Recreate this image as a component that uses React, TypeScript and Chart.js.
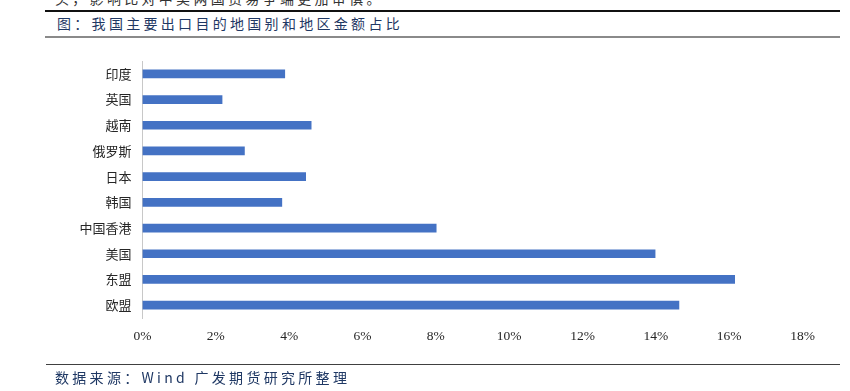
import React, { useEffect, useRef } from "react";
import { Chart, registerables } from "chart.js";

Chart.register(...registerables);

const categories = ["印度", "英国", "越南", "俄罗斯", "日本", "韩国", "中国香港", "美国", "东盟", "欧盟"];
const shares = [3.88, 2.17, 4.6, 2.78, 4.45, 3.8, 8.01, 13.98, 16.15, 14.63];
const xTicks = [0, 2, 4, 6, 8, 10, 12, 14, 16, 18];

const title = "图：我国主要出口目的地国别和地区金额占比";
const source = "数据来源：Wind 广发期货研究所整理";
const topText = "头，影响比对中美两国贸易争端更加审慎。";

export default function App() {
  const ref = useRef<HTMLCanvasElement | null>(null);

  useEffect(() => {
    if (!ref.current) return;
    const chart = new Chart(ref.current, {
      type: "bar",
      data: {
        labels: categories,
        datasets: [
          {
            data: shares,
            backgroundColor: "#4472c4",
            borderWidth: 0,
            barThickness: 8,
          },
        ],
      },
      options: {
        indexAxis: "y",
        animation: false,
        responsive: false,
        maintainAspectRatio: false,
        layout: { padding: { left: 0, right: 47.5, top: 61, bottom: 0 } },
        plugins: { legend: { display: false }, tooltip: { enabled: false } },
        scales: {
          x: {
            min: 0,
            max: 18,
            afterBuildTicks: (s: any) => {
              s.ticks = xTicks.map((v) => ({ value: v }));
            },
            afterFit: (s: any) => {
              s.height = 73;
            },
            grid: { display: false, drawTicks: false },
            border: { display: false },
            ticks: {
              padding: 10,
              color: "#262626",
              font: { family: "'Liberation Serif', 'Times New Roman', serif", size: 13.5 },
              callback: (v: any) => v + "%",
              maxRotation: 0,
              autoSkip: false,
            },
          },
          y: {
            afterFit: (s: any) => {
              s.width = 142.5;
            },
            grid: { display: false, drawTicks: false },
            border: { display: true, color: "#c8c8c8", width: 1 },
            ticks: {
              padding: 11,
              color: "#262626",
              font: { family: "'Noto Sans CJK SC', sans-serif", size: 13 },
              autoSkip: false,
            },
          },
        },
      },
    });
    return () => chart.destroy();
  }, []);

  const textStyle: React.CSSProperties = {
    position: "absolute",
    fontFamily: "'Noto Sans CJK SC', sans-serif",
    fontSize: 14,
    letterSpacing: 3.3,
    color: "#1f3864",
    whiteSpace: "nowrap",
    lineHeight: "16px",
  };

  return (
    <div style={{ position: "absolute", left: 0, top: 0, width: 850, height: 391, overflow: "hidden", background: "#fff" }}>
      <div style={{ ...textStyle, left: 55, top: -10, color: "#333" }}>{topText}</div>
      <div style={{ position: "absolute", left: 45, top: 10, width: 795, height: 2, background: "#111" }} />
      <div style={{ ...textStyle, left: 57, top: 15 }}>{title}</div>
      <div style={{ position: "absolute", left: 45, top: 36, width: 795, height: 1.5, background: "#8a8a8a" }} />
      <canvas ref={ref} width={850} height={391} style={{ position: "absolute", left: 0, top: 0 }} />
      <div style={{ position: "absolute", left: 46, top: 363.5, width: 794, height: 1.5, background: "#404040" }} />
      <div style={{ ...textStyle, left: 55, top: 369 }}>{source}</div>
    </div>
  );
}
